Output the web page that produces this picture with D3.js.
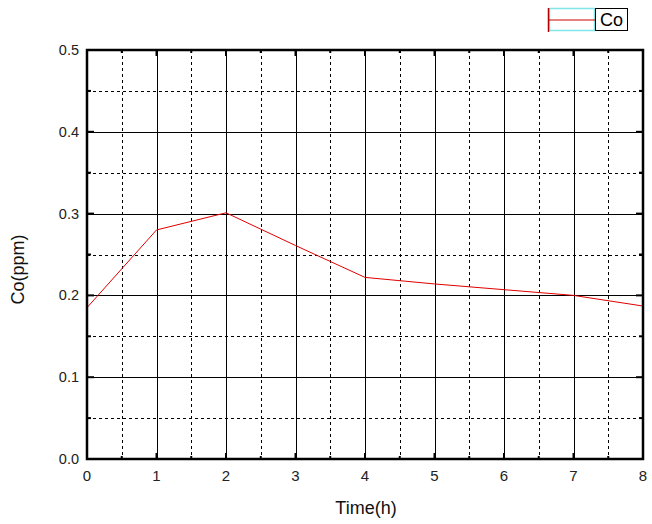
<!DOCTYPE html>
<html><head><meta charset="utf-8">
<script src="https://cdn.jsdelivr.net/npm/d3@7"></script>
<style>body{margin:0;background:#fff}svg{display:block}</style>
</head><body>
<script>
const timeValues = [0, 1, 2, 3, 4, 5, 6, 7, 8];
const coValues = [0.185, 0.280, 0.301, 0.261, 0.222, 0.214, 0.207, 0.200, 0.187];
const xTicks = [0, 1, 2, 3, 4, 5, 6, 7, 8];
const yTicks = [0.0, 0.1, 0.2, 0.3, 0.4, 0.5];
const seriesName = "Co";

const W = 652, H = 524;
const L = 87, R = 643, T = 50, B = 459;
const svg = d3.select("body").append("svg").attr("width", W).attr("height", H);
const x = d3.scaleLinear().domain([0, 8]).range([L, R]);
const y = d3.scaleLinear().domain([0, 0.5]).range([B, T]);
const font = "Arial, 'Liberation Sans', sans-serif";

const g = svg.append("g");
const xMinor = d3.range(0.5, 8, 1);
const yMinor = d3.range(0.05, 0.5, 0.1);
g.selectAll(".xm").data(xMinor).join("line")
  .attr("x1", d => Math.round(x(d)) + 0.5).attr("x2", d => Math.round(x(d)) + 0.5)
  .attr("y1", T).attr("y2", B).attr("stroke", "#000").attr("stroke-width", 1).attr("stroke-dasharray", "3,3");
g.selectAll(".ym").data(yMinor).join("line")
  .attr("y1", d => Math.round(y(d)) + 0.5).attr("y2", d => Math.round(y(d)) + 0.5)
  .attr("x1", L).attr("x2", R).attr("stroke", "#000").attr("stroke-width", 1).attr("stroke-dasharray", "3,3");
g.selectAll(".xM").data(xTicks.slice(1, -1)).join("line")
  .attr("x1", d => Math.round(x(d)) + 0.5).attr("x2", d => Math.round(x(d)) + 0.5)
  .attr("y1", T).attr("y2", B).attr("stroke", "#000").attr("stroke-width", 1);
g.selectAll(".yM").data(yTicks.slice(1, -1)).join("line")
  .attr("y1", d => Math.round(y(d)) + 0.5).attr("y2", d => Math.round(y(d)) + 0.5)
  .attr("x1", L).attr("x2", R).attr("stroke", "#000").attr("stroke-width", 1);

const tk = g.append("g").attr("stroke", "#000").attr("stroke-width", 2);
xTicks.forEach(d => {
  tk.append("line").attr("x1", x(d)).attr("x2", x(d)).attr("y1", B).attr("y2", B - 6);
  tk.append("line").attr("x1", x(d)).attr("x2", x(d)).attr("y1", T).attr("y2", T + 6);
});
xMinor.forEach(d => {
  tk.append("line").attr("x1", x(d)).attr("x2", x(d)).attr("y1", B).attr("y2", B - 3);
  tk.append("line").attr("x1", x(d)).attr("x2", x(d)).attr("y1", T).attr("y2", T + 3);
});
yTicks.forEach(d => {
  tk.append("line").attr("y1", y(d)).attr("y2", y(d)).attr("x1", L).attr("x2", L + 7);
  tk.append("line").attr("y1", y(d)).attr("y2", y(d)).attr("x1", R).attr("x2", R - 7);
});
yMinor.forEach(d => {
  tk.append("line").attr("y1", y(d)).attr("y2", y(d)).attr("x1", L).attr("x2", L + 4);
  tk.append("line").attr("y1", y(d)).attr("y2", y(d)).attr("x1", R).attr("x2", R - 4);
});

const line = d3.line().x((d, i) => x(timeValues[i])).y(d => y(d));
svg.append("path").datum(coValues).attr("d", line)
  .attr("fill", "none").attr("stroke", "#e00000").attr("stroke-width", 1);

svg.append("rect").attr("x", L).attr("y", T).attr("width", R - L).attr("height", B - T)
  .attr("fill", "none").attr("stroke", "#000").attr("stroke-width", 2.5);

svg.selectAll(".xl").data(xTicks).join("text")
  .attr("x", d => x(d)).attr("y", B + 22).attr("text-anchor", "middle")
  .attr("font-family", font).attr("font-size", 15).attr("fill", "#222")
  .text(d => d3.format("d")(d));
svg.selectAll(".yl").data(yTicks).join("text")
  .attr("x", L - 8).attr("y", d => y(d) + 5).attr("text-anchor", "end")
  .attr("font-family", font).attr("font-size", 14.5).attr("fill", "#222")
  .text(d => d3.format(".1f")(d));

svg.append("text").attr("x", (L + R) / 2 + 1).attr("y", 514).attr("text-anchor", "middle")
  .attr("font-family", font).attr("font-size", 18).attr("fill", "#111").text("Time(h)");
svg.append("text").attr("transform", `translate(24,${(T + B) / 2 + 15}) rotate(-90)`)
  .attr("text-anchor", "middle").attr("font-family", font).attr("font-size", 18).attr("fill", "#111")
  .text("Co(ppm)");

const lg = svg.append("g");
lg.append("rect").attr("x", 549.5).attr("y", 8.5).attr("width", 45).attr("height", 22)
  .attr("fill", "#fff").attr("stroke", "#7fe6ea").attr("stroke-width", 1.5);
lg.append("line").attr("x1", 548).attr("x2", 595).attr("y1", 20).attr("y2", 20)
  .attr("stroke", "#d00000").attr("stroke-width", 1);
lg.append("line").attr("x1", 548.5).attr("x2", 548.5).attr("y1", 8).attr("y2", 32)
  .attr("stroke", "#b00000").attr("stroke-width", 1.5);
lg.append("rect").attr("x", 595.5).attr("y", 8.5).attr("width", 32).attr("height", 22)
  .attr("fill", "#fff").attr("stroke", "#000").attr("stroke-width", 1);
lg.append("text").attr("x", 611.5).attr("y", 26).attr("text-anchor", "middle")
  .attr("font-family", font).attr("font-size", 18).attr("fill", "#000").text(seriesName);
</script>
</body></html>
